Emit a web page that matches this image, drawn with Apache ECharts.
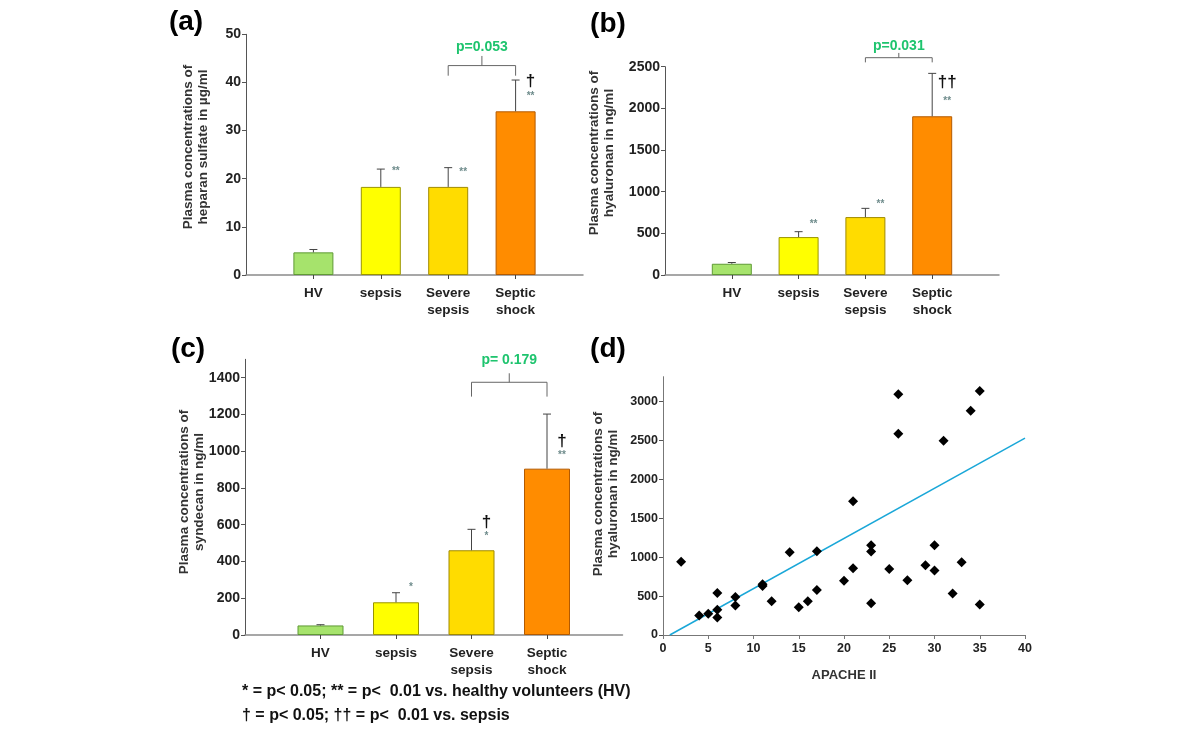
<!DOCTYPE html>
<html><head><meta charset="utf-8">
<script src="https://cdn.jsdelivr.net/npm/echarts@6/dist/echarts.min.js"></script>
<style>html,body{margin:0;padding:0;background:#fff}#c{width:1200px;height:738px}</style>
</head><body><div id="c"></div>
<script>
// ---------- data ----------
const categories = ['HV', 'sepsis', 'Severe\nsepsis', 'Septic\nshock'];
const categoryPos = [1, 2, 3, 4];

const heparanMean = [4.7, 18.3, 18.3, 34.0];
const heparanSem = [0.6, 3.7, 4.0, 6.5];
const heparanTicks = [0, 10, 20, 30, 40, 50];

const hyaluronanMean = [135, 455, 695, 1905];
const hyaluronanSem = [15, 65, 105, 515];
const hyaluronanTicks = [0, 500, 1000, 1500, 2000, 2500];

const syndecanMean = [52, 178, 461, 905];
const syndecanSem = [4, 52, 114, 297];
const syndecanTicks = [0, 200, 400, 600, 800, 1000, 1200, 1400];

// significance marks: [category position, y value, text]
const heparanMarks = [[2, 21.5, '**'], [3, 21.3, '**'], [4, 40.2, '†'], [4, 37.1, '**']];
const hyaluronanMarks = [[2, 608, '**'], [3, 852, '**'], [4, 2308, '††'], [4, 2080, '**']];
const syndecanMarks = [[2, 260, '*'], [3, 611, '†'], [3, 535, '*'], [4, 1055, '†'], [4, 979, '**']];

// comparison brackets: [x from, x to, bar y, leg end y, tick top y, text y]
const heparanBracket = [3, 4, 43.5, 41.4, 45.5, 47.3];
const hyaluronanBracket = [3, 4, 2608, 2552, 2665, 2750];
const syndecanBracket = [3, 4, 1375, 1297, 1424, 1496];
const pTexts = ['p=0.053', 'p=0.031', 'p= 0.179'];

// scatter: [APACHE II, hyaluronan ng/ml]
const apacheHyaluronan = [
  [2, 940], [4, 250], [5, 274], [6, 539], [6, 326], [6, 226], [8, 487], [8, 378],
  [11, 630], [11, 652], [12, 435], [14, 1065], [15, 357], [16, 435], [17, 1078], [17, 578],
  [20, 696], [21, 1720], [21, 857], [23, 1152], [23, 1074], [23, 409], [25, 848],
  [26, 3093], [26, 2587], [27, 704], [29, 896], [30, 1152], [30, 830], [31, 2497],
  [32, 535], [33, 935], [34, 2883], [35, 3136], [35, 391]
];
const trendLine = [[0.75, 0], [40, 2530]];
const scatterYTicks = [0, 500, 1000, 1500, 2000, 2500, 3000];

// ---------- styles ----------
const FONT = '"Liberation Sans", Arial, sans-serif';
const barColors = ['#a6e36c', '#ffff00', '#ffdc00', '#ff8c00'];
const barBorders = ['#5f9a35', '#9a9400', '#a08a00', '#b35a00'];
const plain = v => String(v);

const chart = echarts.init(document.getElementById('c'), null, {renderer: 'canvas'});

function barSeries(mean, idx) {
  return {
    type: 'bar', xAxisIndex: idx, yAxisIndex: idx, barWidth: idx === 2 ? 46 : 40, z: 2,
    data: mean.map((v, i) => ({
      value: [categoryPos[i], v],
      itemStyle: {color: barColors[i], borderColor: barBorders[i], borderWidth: 1}
    })),
    animation: false
  };
}
function errorSeries(mean, sem, idx) {
  return {
    type: 'custom', xAxisIndex: idx, yAxisIndex: idx, z: 3, animation: false,
    data: mean.map((m, i) => [categoryPos[i], m, m + sem[i]]),
    renderItem: (params, api) => {
      const x = api.value(0);
      const lo = api.coord([x, api.value(1)]);
      const hi = api.coord([x, api.value(2)]);
      return {type: 'group', children: [
        {type: 'line', shape: {x1: lo[0], y1: lo[1], x2: hi[0], y2: hi[1]}, style: {stroke: '#444', lineWidth: 1}},
        {type: 'line', shape: {x1: hi[0] - 4, y1: hi[1], x2: hi[0] + 4, y2: hi[1]}, style: {stroke: '#444', lineWidth: 1}}
      ]};
    }
  };
}
function markSeries(marks, idx) {
  return {
    type: 'custom', xAxisIndex: idx, yAxisIndex: idx, z: 4, clip: false, animation: false,
    data: marks.map(m => [m[0], m[1]]),
    renderItem: (params, api) => {
      const pt = api.coord([api.value(0), api.value(1)]);
      const t = marks[params.dataIndex][2];
      const dagger = t.indexOf('†') >= 0;
      return {type: 'text', x: pt[0] + 15, y: pt[1], style: {
        text: t, fill: dagger ? '#111' : '#6f8c8c',
        font: dagger ? 'bold 17px ' + FONT : 'bold 10px ' + FONT,
        align: 'center', verticalAlign: 'middle'
      }};
    }
  };
}
function bracketSeries(br, text, idx) {
  return {
    type: 'custom', xAxisIndex: idx, yAxisIndex: idx, z: 4, clip: false, animation: false,
    data: [br],
    renderItem: (params, api) => {
      const a = api.coord([api.value(0), api.value(2)]);
      const b = api.coord([api.value(1), api.value(2)]);
      const legY = api.coord([api.value(0), api.value(3)])[1];
      const tickY = api.coord([api.value(0), api.value(4)])[1];
      const textY = api.coord([api.value(0), api.value(5)])[1];
      const mx = (a[0] + b[0]) / 2;
      return {type: 'group', children: [
        {type: 'polyline', shape: {points: [[a[0], legY], [a[0], a[1]], [b[0], b[1]], [b[0], legY]]},
          style: {stroke: '#666', fill: null, lineWidth: 1}},
        {type: 'line', shape: {x1: mx, y1: a[1], x2: mx, y2: tickY}, style: {stroke: '#666', lineWidth: 1}},
        {type: 'text', x: mx, y: textY, style: {text: text, fill: '#1ec46e', font: 'bold 14px ' + FONT,
          align: 'center', verticalAlign: 'middle'}}
      ]};
    }
  };
}
function catXAxis(idx) {
  return {
    gridIndex: idx, type: 'value', min: 0, max: 5,
    axisLine: {show: true, lineStyle: {color: '#8a8a8a', width: 1.5}},
    axisTick: {show: true, customValues: categoryPos, length: 4, lineStyle: {color: '#444'}},
    axisLabel: {customValues: categoryPos, formatter: v => categories[v - 1],
      fontFamily: FONT, fontWeight: 'bold', fontSize: 13.5, color: '#222', margin: 10, lineHeight: 17},
    splitLine: {show: false}
  };
}
function valYAxis(idx, max, ticks, size) {
  return {
    gridIndex: idx, type: 'value', min: 0, max: max,
    axisLine: {show: true, lineStyle: {color: '#555', width: 1}},
    axisTick: {show: true, customValues: ticks, length: 4, lineStyle: {color: '#555'}},
    axisLabel: {customValues: ticks, formatter: plain, fontFamily: FONT, fontWeight: 'bold',
      fontSize: size, color: '#222', margin: 5},
    splitLine: {show: false}
  };
}
function yName(x, y, text) {
  return {type: 'text', x: x, y: y, rotation: Math.PI / 2, style: {
    text: text, font: 'bold 13.5px ' + FONT, fill: '#333', align: 'center', verticalAlign: 'middle', lineHeight: 15
  }};
}
function panelLabel(x, y, text) {
  return {type: 'text', x: x, y: y, style: {text: text, font: 'bold 28px ' + FONT, fill: '#000',
    align: 'center', verticalAlign: 'middle'}};
}

const scatterY = valYAxis(3, 3320, scatterYTicks, 12.5);
scatterY.axisLine = {show: true, lineStyle: {color: '#777', width: 1}};

const option = {
  backgroundColor: '#fff',
  animation: false,
  grid: [
    {left: 246, top: 34.3, width: 337, height: 240.7},
    {left: 665, top: 66.7, width: 334, height: 208.3},
    {left: 245, top: 359.3, width: 377.5, height: 275.7},
    {left: 663, top: 376.7, width: 362, height: 258.3}
  ],
  xAxis: [
    catXAxis(0), catXAxis(1), catXAxis(2),
    {gridIndex: 3, type: 'value', min: 0, max: 40, interval: 5,
      axisLine: {show: true, lineStyle: {color: '#777', width: 1}},
      axisTick: {show: true, length: 4, lineStyle: {color: '#777'}},
      axisLabel: {formatter: plain, fontFamily: FONT, fontWeight: 'bold', fontSize: 12.5, color: '#222', margin: 7},
      splitLine: {show: false},
      name: 'APACHE II', nameLocation: 'middle', nameGap: 34,
      nameTextStyle: {fontFamily: FONT, fontWeight: 'bold', fontSize: 13, color: '#333'}}
  ],
  yAxis: [
    valYAxis(0, 50, heparanTicks, 14),
    valYAxis(1, 2500, hyaluronanTicks, 14),
    valYAxis(2, 1500, syndecanTicks, 14),
    scatterY
  ],
  series: [
    barSeries(heparanMean, 0), errorSeries(heparanMean, heparanSem, 0),
    markSeries(heparanMarks, 0), bracketSeries(heparanBracket, pTexts[0], 0),
    barSeries(hyaluronanMean, 1), errorSeries(hyaluronanMean, hyaluronanSem, 1),
    markSeries(hyaluronanMarks, 1), bracketSeries(hyaluronanBracket, pTexts[1], 1),
    barSeries(syndecanMean, 2), errorSeries(syndecanMean, syndecanSem, 2),
    markSeries(syndecanMarks, 2), bracketSeries(syndecanBracket, pTexts[2], 2),
    {type: 'scatter', xAxisIndex: 3, yAxisIndex: 3, symbol: 'diamond', symbolSize: 10,
      itemStyle: {color: '#000', opacity: 1}, data: apacheHyaluronan, z: 3},
    {type: 'line', xAxisIndex: 3, yAxisIndex: 3, data: trendLine, showSymbol: false, symbol: 'none',
      lineStyle: {color: '#1aa7d8', width: 1.5}, z: 2}
  ],
  graphic: [
    panelLabel(186, 22, '(a)'), panelLabel(608, 24, '(b)'),
    panelLabel(188, 349, '(c)'), panelLabel(608, 349, '(d)'),
    yName(196, 147, 'Plasma concentrations of\nheparan sulfate in µg/ml'),
    yName(602, 153, 'Plasma concentrations of\nhyaluronan in ng/ml'),
    yName(192, 492, 'Plasma concentrations of\nsyndecan in ng/ml'),
    yName(606, 494, 'Plasma concentrations of\nhyaluronan in ng/ml'),
    {type: 'text', x: 242, y: 692, style: {text: '* = p< 0.05; ** = p<  0.01 vs. healthy volunteers (HV)',
      font: 'bold 16px ' + FONT, fill: '#111', verticalAlign: 'middle'}},
    {type: 'text', x: 242, y: 716, style: {text: '† = p< 0.05; †† = p<  0.01 vs. sepsis',
      font: 'bold 16px ' + FONT, fill: '#111', verticalAlign: 'middle'}}
  ]
};
chart.setOption(option);
</script>
</body></html>
